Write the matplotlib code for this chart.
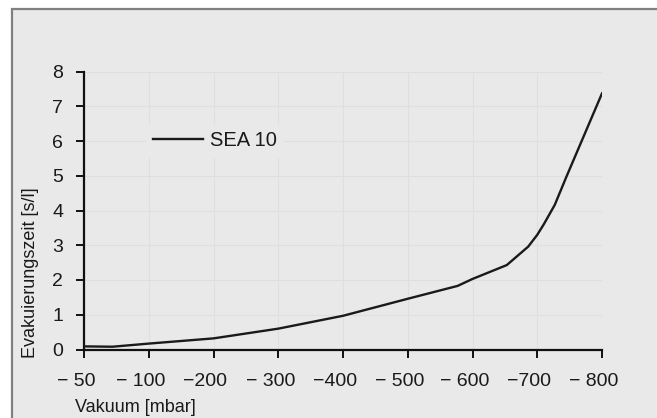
import numpy as np
import matplotlib
matplotlib.use("Agg")
import matplotlib.pyplot as plt
from matplotlib.patches import Rectangle
import matplotlib.transforms as mtransforms

# ---- data ----
tick_values = [-50, -100, -200, -300, -400, -500, -600, -700, -800]
tick_labels = ["\u2212 50", "\u2212 100", "\u2212200", "\u2212 300", "\u2212400",
               "\u2212 500", "\u2212 600", "\u2212700", "\u2212 800"]
vacuum_mbar = [-50, -72, -100, -200, -300, -400, -500, -577, -600, -653, -686,
               -700, -710, -727, -745, -800]
evac_time = [0.09, 0.08, 0.17, 0.32, 0.60, 0.97, 1.46, 1.83, 2.03, 2.43, 2.96,
             3.30, 3.60, 4.16, 4.97, 7.37]
y_ticks = [0, 1, 2, 3, 4, 5, 6, 7, 8]
series_name = "SEA 10"
x_title = "Vakuum [mbar]"
y_title = "Evakuierungszeit [s/l]"

BG = "#e9e9e9"
FONT = ["Liberation Sans", "DejaVu Sans"]
plt.rcParams["font.family"] = FONT

W, H = 657, 418
fig = plt.figure(figsize=(W / 100, H / 100), dpi=100, facecolor="white")

# panel background with border
fig.patches.append(Rectangle((12 / W, -0.05), 1.0, 1 - 9 / H + 0.05,
                             transform=fig.transFigure, facecolor=BG,
                             edgecolor="#808080", linewidth=1.6, zorder=-10))

ax = fig.add_axes([84 / W, 1 - 349.5 / H, (602 - 84) / W, (349.5 - 71.5) / H])
ax.set_zorder(5)
ax.set_facecolor(BG)

# category-like axis: map mbar values to tick positions
positions = np.arange(len(tick_values))
x_pos = np.interp(-np.array(vacuum_mbar, dtype=float),
                  -np.array(tick_values, dtype=float), positions)

ax.plot(x_pos, evac_time, color="#1a1a1a", linewidth=1.7, label=series_name,
        solid_joinstyle="round", zorder=3)

ax.set_xlim(0, len(tick_values) - 1)
ax.set_ylim(0, 8)
ax.set_xticks(positions)
ax.set_xticklabels(tick_labels)
ax.set_yticks(y_ticks)

for s in ["top", "right"]:
    ax.spines[s].set_visible(False)
for s in ["left", "bottom"]:
    ax.spines[s].set_linewidth(1.6)
    ax.spines[s].set_color("#111111")

ax.grid(True, color="#dfdfdf", linewidth=0.8, zorder=0)
ax.set_axisbelow(True)

ax.tick_params(axis="both", direction="out", length=6, width=1.4,
               colors="#111111", labelsize=14, labelcolor="#1a1a1a")
ax.tick_params(axis="x", pad=11)
ax.tick_params(axis="y", pad=9)

offset = mtransforms.ScaledTranslation(-8 / 100, 0, fig.dpi_scale_trans)
for lab in ax.get_xticklabels():
    lab.set_transform(lab.get_transform() + offset)

leg = ax.legend(loc="center left", bbox_to_anchor=(147 / W, 1 - 141 / H),
                bbox_transform=fig.transFigure, frameon=True,
                facecolor=BG, edgecolor=BG, framealpha=1, fancybox=False,
                fontsize=14.5, handlelength=2.5, handletextpad=0.35,
                borderpad=0.3, borderaxespad=0)
for t in leg.get_texts():
    t.set_color("#1a1a1a")

fig.text(75 / W, 1 - 407 / H, x_title, ha="left", va="center",
         fontsize=13, color="#1a1a1a")
fig.text(31 / W, 1 - 273 / H, y_title, ha="center", va="center",
         rotation=90, fontsize=13, color="#1a1a1a")

fig.savefig("out.png", dpi=100, facecolor="white")
